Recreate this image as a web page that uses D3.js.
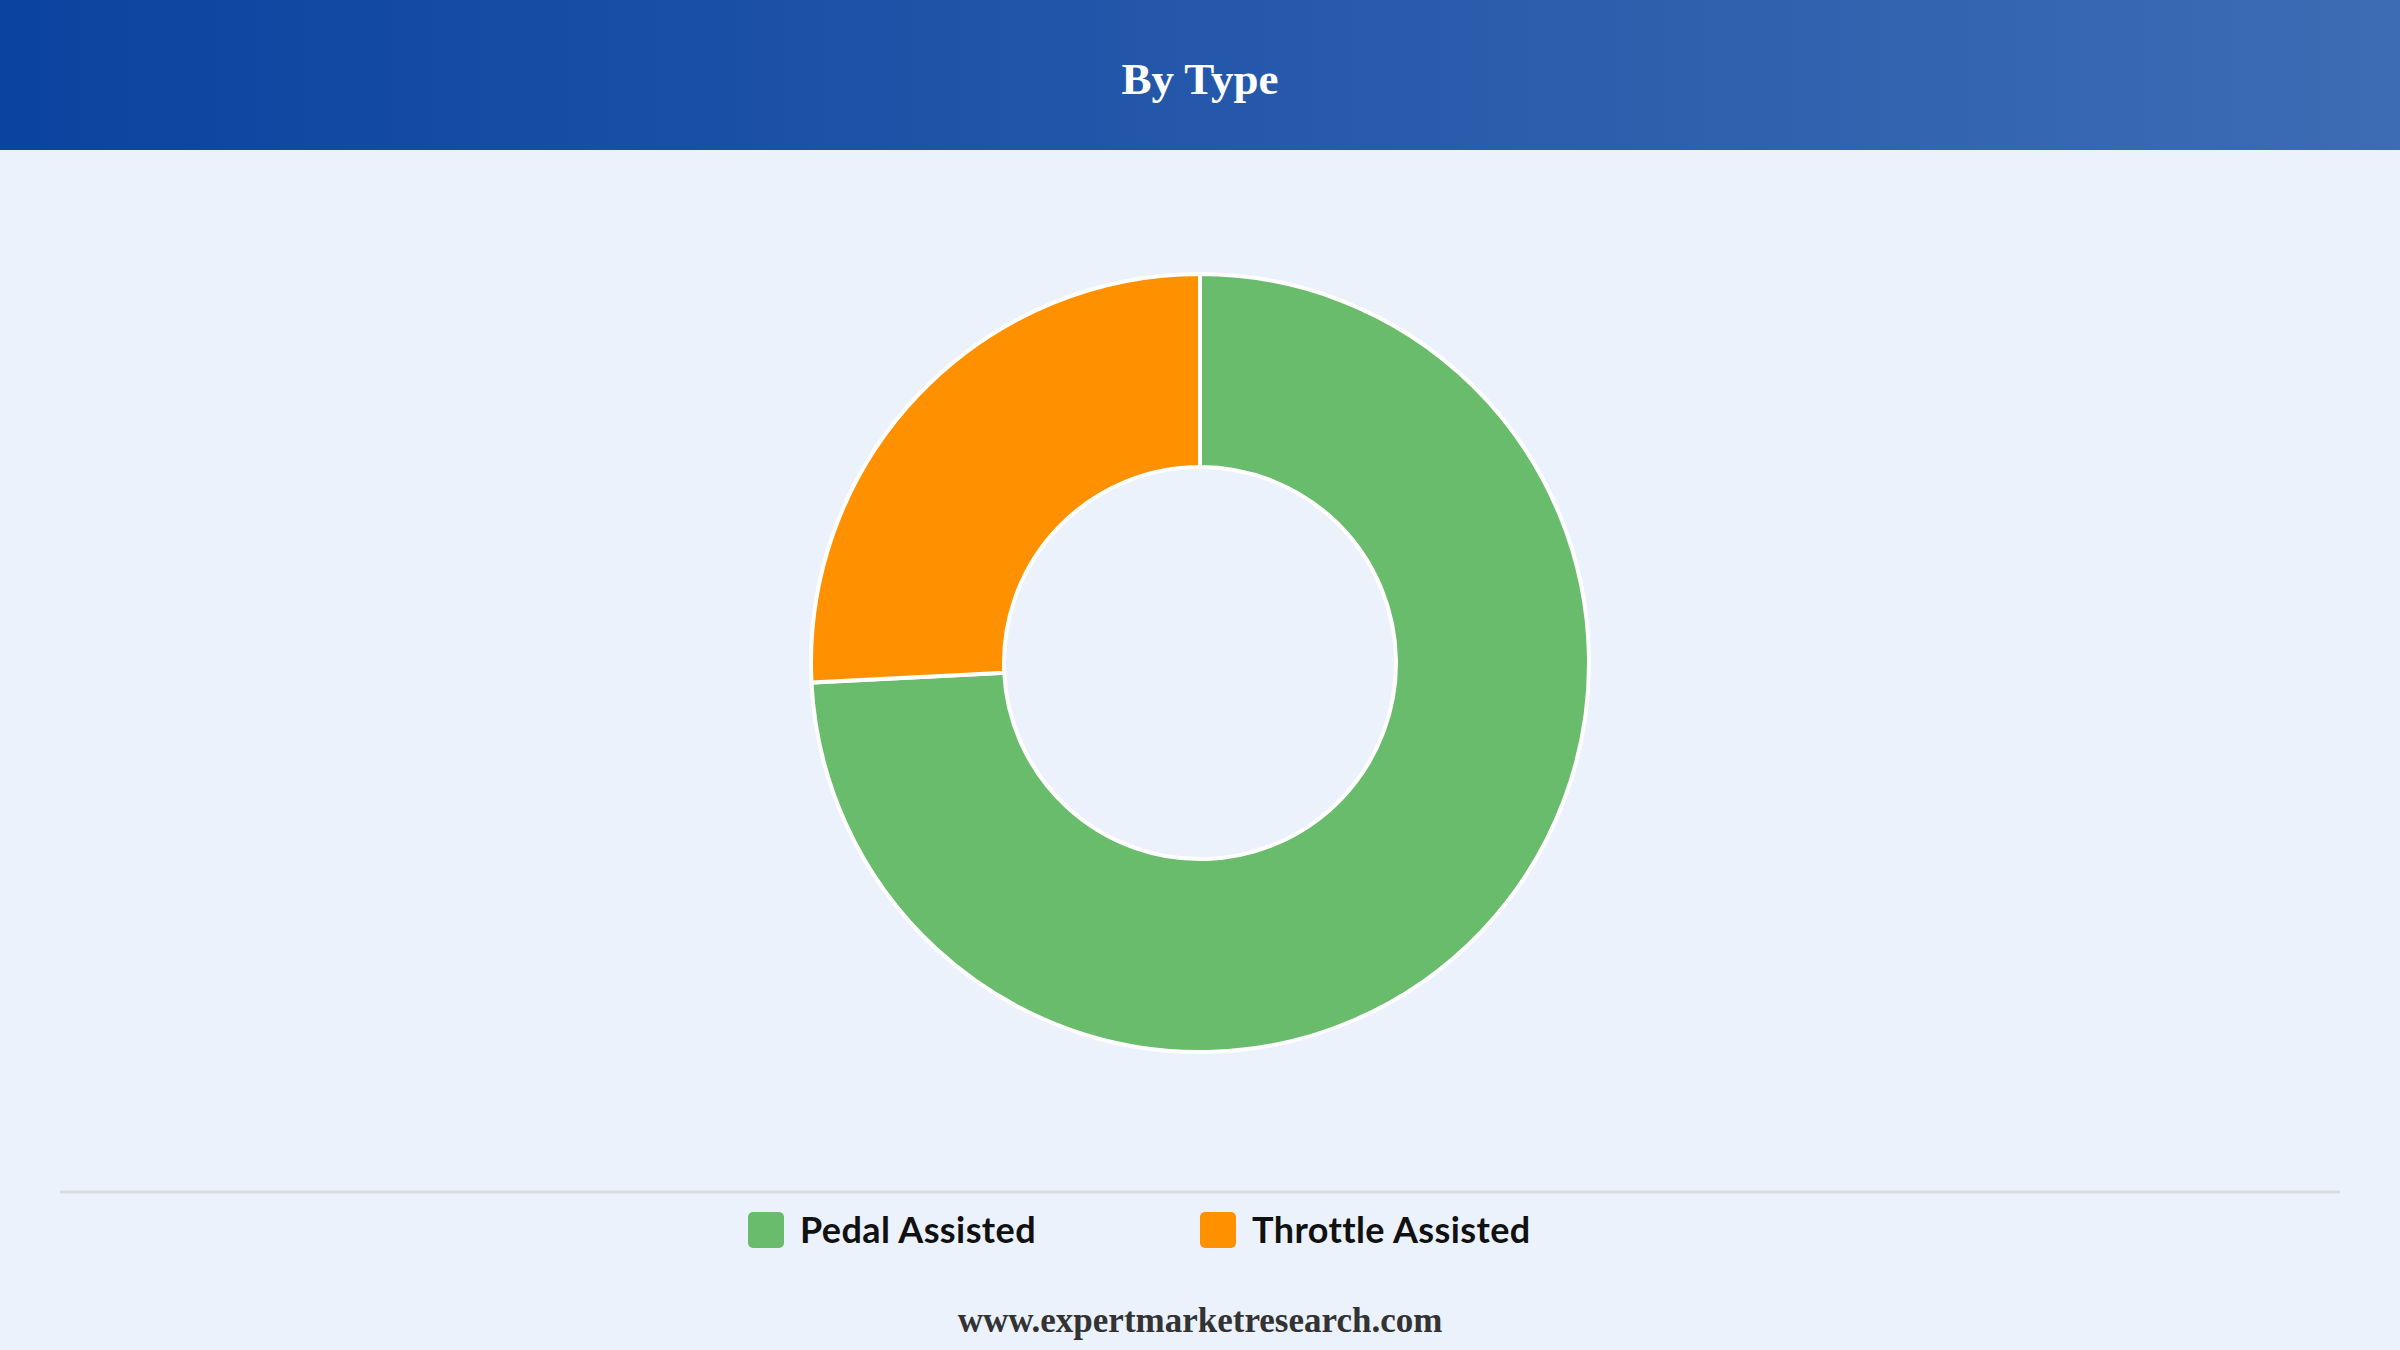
<!DOCTYPE html>
<html>
<head>
<meta charset="utf-8">
<script src="https://cdn.jsdelivr.net/npm/d3@7"></script>
<style>
  body { margin: 0; background: #ebf2fc; }
</style>
</head>
<body>
<svg id="chart"></svg>
<script>
// segment shares
const categories = ["Pedal Assisted", "Throttle Assisted"];
const shares = [74.2, 25.8];
const colors = ["#69bc6c", "#ff9100"];

const W = 2400, H = 1350;
const svg = d3.select("#chart").attr("width", W).attr("height", H);

svg.append("rect").attr("width", W).attr("height", H).attr("fill", "#ebf2fc");

// header band
const grad = svg.append("defs").append("linearGradient").attr("id", "hdr");
grad.append("stop").attr("offset", "0%").attr("stop-color", "#0b43a0");
grad.append("stop").attr("offset", "100%").attr("stop-color", "#3d6cb4");
svg.append("rect").attr("width", W).attr("height", 150).attr("fill", "url(#hdr)");
svg.append("text")
  .attr("x", W / 2).attr("y", 94)
  .attr("text-anchor", "middle")
  .attr("font-family", "Liberation Serif, serif")
  .attr("font-weight", "bold")
  .attr("font-size", 45)
  .attr("fill", "#fff")
  .text("By Type");

// donut
const pie = d3.pie().sort(null).value(d => d);
const arc = d3.arc().innerRadius(196).outerRadius(389);
const g = svg.append("g").attr("transform", "translate(1200,663)");
g.selectAll("path")
  .data(pie(shares))
  .join("path")
  .attr("d", arc)
  .attr("fill", (d, i) => colors[i])
  .attr("stroke", "#fff")
  .attr("stroke-width", 4);

// divider
svg.append("line")
  .attr("x1", 60).attr("x2", 2340).attr("y1", 1192).attr("y2", 1192)
  .attr("stroke", "#d8dce2").attr("stroke-width", 3);

// legend
const legendX = [748, 1200];
const lg = svg.append("g").selectAll("g")
  .data(categories)
  .join("g")
  .attr("transform", (d, i) => `translate(${legendX[i]},1212)`);
lg.append("rect")
  .attr("width", 36).attr("height", 36).attr("rx", 5)
  .attr("fill", (d, i) => colors[i]);
lg.append("text")
  .attr("x", 52).attr("y", 31)
  .attr("font-family", "Lato, sans-serif")
  .attr("font-weight", "bold")
  .attr("font-size", 36)
  .attr("letter-spacing", 0.4)
  .attr("fill", "#111")
  .text(d => d);

// footer
svg.append("text")
  .attr("x", W / 2).attr("y", 1332)
  .attr("text-anchor", "middle")
  .attr("font-family", "Liberation Serif, serif")
  .attr("font-weight", "bold")
  .attr("font-size", 35)
  .attr("fill", "#333")
  .text("www.expertmarketresearch.com");
</script>
</body>
</html>
